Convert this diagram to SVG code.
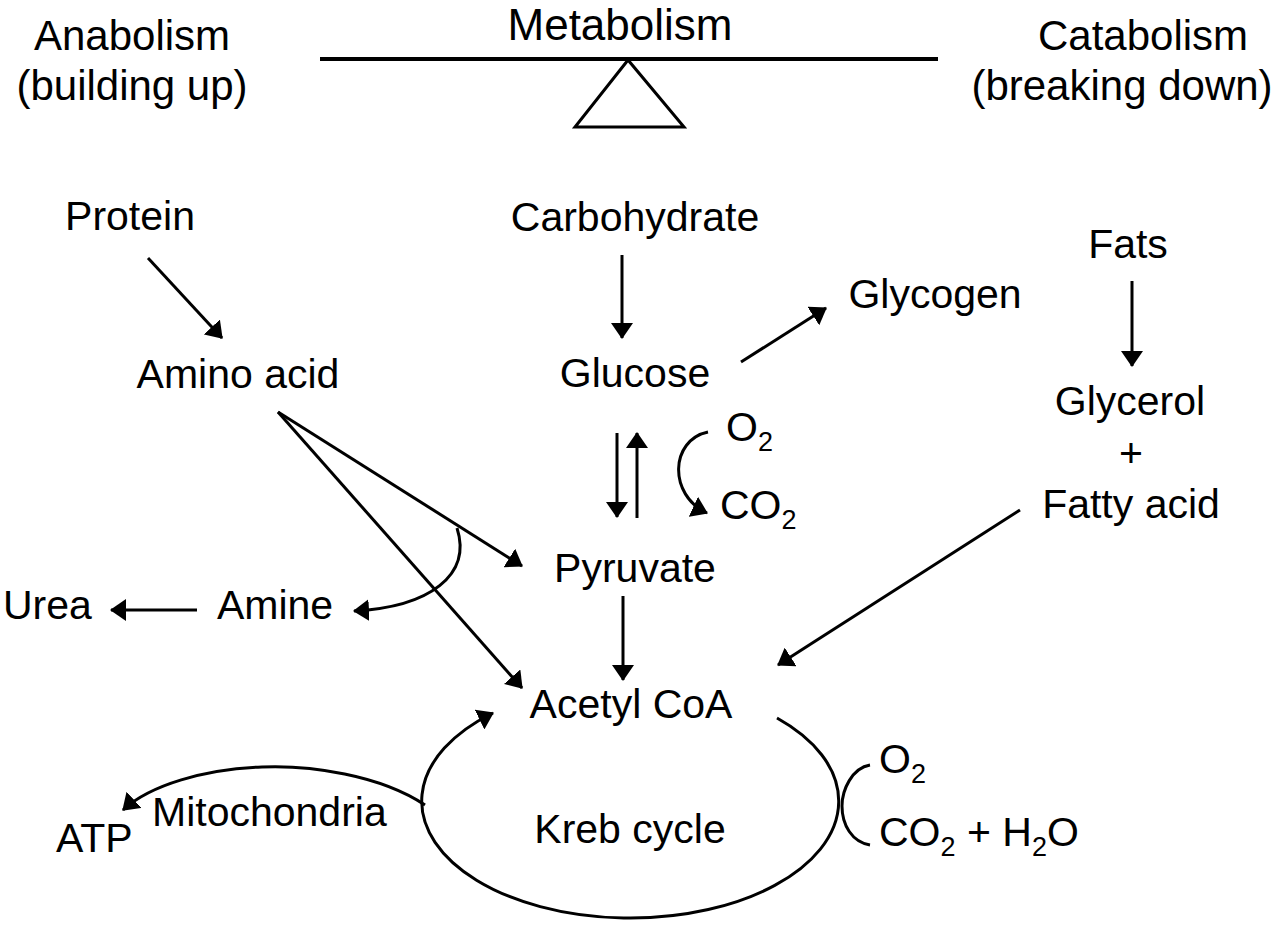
<svg xmlns="http://www.w3.org/2000/svg" width="1280" height="932" viewBox="0 0 1280 932">
<style>
text{font-family:"Liberation Sans",Arial,sans-serif;fill:#000}
.b{font-size:41px}
.h{font-size:42px}
.s{font-size:27px}
.ln{stroke:#000;stroke-width:3;fill:none}
</style>
<defs>
<marker id="ah" viewBox="0 0 16 22" refX="15" refY="11" markerWidth="16" markerHeight="22" markerUnits="userSpaceOnUse" orient="auto">
<path d="M0,0 L16,11 L0,22 z" fill="#000"/>
</marker>
</defs>
<rect width="1280" height="932" fill="#fff"/>
<g id="header">
<text x="620" y="40" text-anchor="middle" font-size="44">Metabolism</text>
<text class="h" x="132" y="50" text-anchor="middle">Anabolism</text>
<text class="h" x="132" y="100" text-anchor="middle">(building up)</text>
<text class="h" x="1143" y="50" text-anchor="middle">Catabolism</text>
<text class="h" x="1122" y="100" text-anchor="middle">(breaking down)</text>
<line x1="320" y1="59" x2="938" y2="59" stroke="#000" stroke-width="4"/>
<path d="M628,60 L575,127 L684,127 z" fill="none" stroke="#000" stroke-width="3"/>
</g>
<g id="protein"><text class="b" x="130" y="230" text-anchor="middle">Protein</text></g>
<g id="carbohydrate"><text class="b" x="635" y="231" text-anchor="middle">Carbohydrate</text></g>
<g id="fats"><text class="b" x="1128" y="258" text-anchor="middle">Fats</text></g>
<g id="glycogen"><text class="b" x="935" y="308" text-anchor="middle">Glycogen</text></g>
<g id="amino-acid"><text class="b" x="238" y="388" text-anchor="middle">Amino acid</text></g>
<g id="glucose"><text class="b" x="635" y="387" text-anchor="middle">Glucose</text></g>
<g id="glycerol-fatty-acid">
<text class="b" x="1130" y="415" text-anchor="middle">Glycerol</text>
<text class="b" x="1131" y="467" text-anchor="middle">+</text>
<text class="b" x="1131" y="518" text-anchor="middle">Fatty acid</text>
</g>
<g id="o2-co2-glycolysis">
<text class="b" x="726" y="441">O<tspan class="s" dy="10">2</tspan></text>
<text class="b" x="720" y="519">CO<tspan class="s" dy="10">2</tspan></text>
</g>
<g id="pyruvate"><text class="b" x="635" y="582" text-anchor="middle">Pyruvate</text></g>
<g id="urea"><text class="b" x="3" y="619">Urea</text></g>
<g id="amine"><text class="b" x="275" y="619" text-anchor="middle">Amine</text></g>
<g id="acetyl-coa"><text class="b" x="631" y="718" text-anchor="middle">Acetyl CoA</text></g>
<g id="kreb-cycle">
<path class="ln" d="M777,718 A208.5,117 0 1 1 493,713" marker-end="url(#ah)"/>
<text class="b" x="630" y="843" text-anchor="middle">Kreb cycle</text>
</g>
<g id="mitochondria"><text class="b" x="152" y="826">Mitochondria</text></g>
<g id="atp"><text class="b" x="56" y="852">ATP</text></g>
<g id="o2-co2-h2o">
<text class="b" x="879" y="773">O<tspan class="s" dy="10">2</tspan></text>
<text class="b" x="879" y="846">CO<tspan class="s" dy="10">2</tspan><tspan dy="-10"> + H</tspan><tspan class="s" dy="10">2</tspan><tspan dy="-10">O</tspan></text>
</g>
<g id="connectors">
<line class="ln" x1="148" y1="258" x2="222" y2="338" marker-end="url(#ah)"/>
<line class="ln" x1="622" y1="255" x2="622" y2="338" marker-end="url(#ah)"/>
<line class="ln" x1="1132" y1="281" x2="1132" y2="366" marker-end="url(#ah)"/>
<line class="ln" x1="741" y1="362" x2="826" y2="308" marker-end="url(#ah)"/>
<line class="ln" x1="617" y1="433" x2="617" y2="517" marker-end="url(#ah)"/>
<line class="ln" x1="637" y1="518" x2="637" y2="433" marker-end="url(#ah)"/>
<path class="ln" d="M708,432 C670,440 668,495 707,513" marker-end="url(#ah)"/>
<line class="ln" x1="278" y1="412" x2="522" y2="566" marker-end="url(#ah)"/>
<line class="ln" x1="278" y1="412" x2="522" y2="688" marker-end="url(#ah)"/>
<path class="ln" d="M457,528 C472,575 430,607 354,611" marker-end="url(#ah)"/>
<line class="ln" x1="197" y1="610" x2="111" y2="610" marker-end="url(#ah)"/>
<line class="ln" x1="623" y1="596" x2="623" y2="680" marker-end="url(#ah)"/>
<line class="ln" x1="1020" y1="510" x2="778" y2="665" marker-end="url(#ah)"/>
<path class="ln" d="M425,805 C380,775 310,765 262,767 C205,769 150,785 123,810" marker-end="url(#ah)"/>
<path class="ln" d="M870,765 C852,768 842,790 842,806 C842,825 852,842 870,845"/>
</g>
</svg>
